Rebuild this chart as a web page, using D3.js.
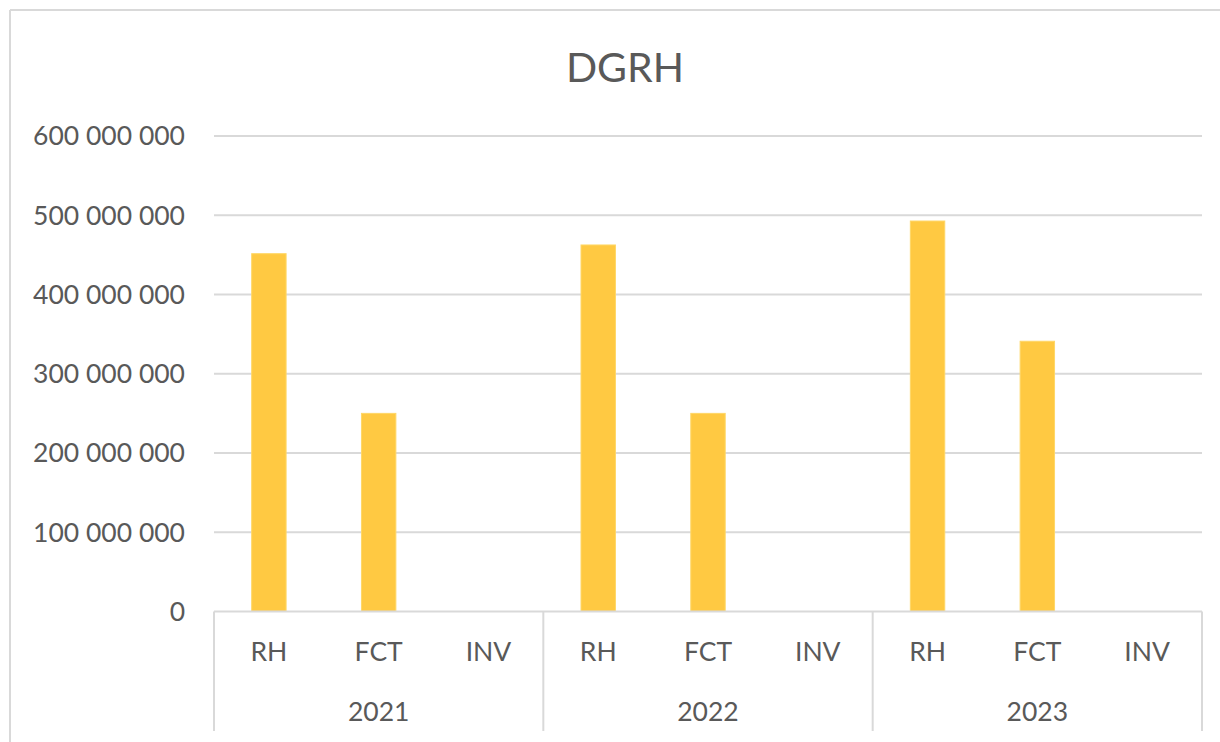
<!DOCTYPE html>
<html>
<head>
<meta charset="utf-8">
<script src="https://cdn.jsdelivr.net/npm/d3@7"></script>
<style>
  html, body { margin: 0; padding: 0; background: #fff; }
  #chart { width: 1220px; height: 742px; }
  text { font-family: Lato, "Open Sans", sans-serif; fill: #595959; }
</style>
</head>
<body>
<div id="chart"></div>
<script>
// données
const years = ["2021", "2022", "2023"];
const categories = ["RH", "FCT", "INV"];
const valuesRH = [451500000, 462500000, 492700000];
const valuesFCT = [250000000, 250000000, 341000000];
const valuesINV = [0, 0, 0];
const yTicks = [0, 100000000, 200000000, 300000000, 400000000, 500000000, 600000000];

const rows = [];
years.forEach((yr, i) => {
    rows.push({ year: yr, cat: "RH", value: valuesRH[i] });
    rows.push({ year: yr, cat: "FCT", value: valuesFCT[i] });
    rows.push({ year: yr, cat: "INV", value: valuesINV[i] });
});

const width = 1220, height = 742;
const plot = { left: 214, right: 1202, top: 136, bottom: 611.5 };
const gridColor = "#d9d9d9";

const svg = d3.select("#chart").append("svg")
    .attr("width", width)
    .attr("height", height);

// cadre du graphique (coupé à droite et en bas)
svg.append("line")
    .attr("x1", 10).attr("x2", width).attr("y1", 10).attr("y2", 10)
    .attr("stroke", gridColor).attr("stroke-width", 2);
svg.append("line")
    .attr("x1", 10).attr("x2", 10).attr("y1", 10).attr("y2", height)
    .attr("stroke", gridColor).attr("stroke-width", 2);

svg.append("text")
    .attr("x", 625).attr("y", 82)
    .attr("text-anchor", "middle")
    .style("font-size", "41px")
    .text("DGRH");

const y = d3.scaleLinear().domain([0, 600000000]).range([plot.bottom, plot.top]);
const xYear = d3.scaleBand().domain(years).range([plot.left, plot.right]).padding(0);
const xCat = d3.scaleBand().domain(categories).range([0, xYear.bandwidth()]).padding(0);
const barW = xCat.bandwidth() / 3.19; // écart 219 %

const fr = d3.formatLocale({ decimal: ",", thousands: " ", grouping: [3], currency: ["", ""] });
const fmt = fr.format(",");

// grille
svg.append("g")
    .selectAll("line")
    .data(yTicks.filter(d => d > 0))
    .join("line")
    .attr("x1", plot.left).attr("x2", plot.right)
    .attr("y1", d => y(d)).attr("y2", d => y(d))
    .attr("stroke", gridColor).attr("stroke-width", 2);

// étiquettes de l'axe Y
svg.append("g")
    .selectAll("text")
    .data(yTicks)
    .join("text")
    .attr("x", 185)
    .attr("y", d => y(d))
    .attr("dy", "0.35em")
    .attr("text-anchor", "end")
    .style("font-size", "26.5px")
    .text(d => fmt(d));

// barres
svg.append("g")
    .selectAll("rect")
    .data(rows)
    .join("rect")
    .attr("x", d => xYear(d.year) + xCat(d.cat) + (xCat.bandwidth() - barW) / 2)
    .attr("width", barW)
    .attr("y", d => y(d.value))
    .attr("height", d => y(0) - y(d.value))
    .attr("fill", "#ffc942")
    .attr("stroke", "#ffd766")
    .attr("stroke-width", 1);

// axe X
svg.append("line")
    .attr("x1", plot.left).attr("x2", plot.right)
    .attr("y1", plot.bottom).attr("y2", plot.bottom)
    .attr("stroke", gridColor).attr("stroke-width", 2);

const dividers = years.map(yr => xYear(yr)).concat([plot.right]);
svg.append("g")
    .selectAll("line")
    .data(dividers)
    .join("line")
    .attr("x1", d => d).attr("x2", d => d)
    .attr("y1", plot.bottom).attr("y2", 731)
    .attr("stroke", gridColor).attr("stroke-width", 2);

svg.append("g")
    .selectAll("text")
    .data(rows)
    .join("text")
    .attr("x", d => xYear(d.year) + xCat(d.cat) + xCat.bandwidth() / 2)
    .attr("y", 652)
    .attr("dy", "0.35em")
    .attr("text-anchor", "middle")
    .style("font-size", "26.5px")
    .text(d => d.cat);

svg.append("g")
    .selectAll("text")
    .data(years)
    .join("text")
    .attr("x", d => xYear(d) + xYear.bandwidth() / 2)
    .attr("y", 712)
    .attr("dy", "0.35em")
    .attr("text-anchor", "middle")
    .style("font-size", "26.5px")
    .text(d => d);
</script>
</body>
</html>
